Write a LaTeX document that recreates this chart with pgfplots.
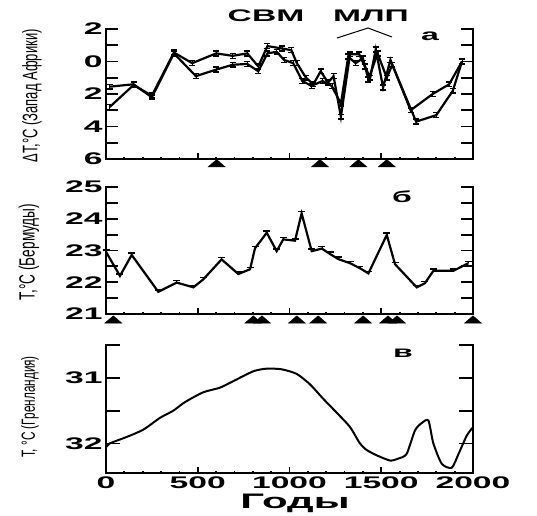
\documentclass[border=0pt]{standalone}
\usepackage{fontspec}
\setmainfont{Liberation Sans}
\newfontfamily\widefont[FakeStretch=2]{Liberation Sans}
\newfontfamily\ylfont[FakeStretch=0.62]{Liberation Sans}
\usepackage{pgfplots}
\pgfplotsset{compat=1.18}
\tikzset{tk/.style={black, line width=1.8pt}}
\pgfplotsset{
  panel/.style={
    scale only axis, width=367pt, xmin=0, xmax=2000,
    axis line style={draw=none},
    xtick={0,500,1000,1500,2000},
    xtick pos=bottom, ytick pos=both,
    tick align=inside,
    major tick length=0pt, minor tick length=0pt,
    tick label style={font=\widefont\bfseries\fontsize{16.8}{16.8}\selectfont},
    clip=false,
    before end axis/.code={\draw[line width=2.5pt, line cap=rect, line join=miter]
      (axis description cs:0,1) -- (axis description cs:0,0) -- (axis description cs:1,0) -- (axis description cs:1,1);},
  },
  tri/.style={only marks, mark=triangle*, mark size=9.8pt, mark options={yscale=0.5, fill=black, draw=black}},
}
\begin{document}
\begin{tikzpicture}
\path[use as bounding box] (0,0) rectangle (537pt,-515pt);
% ---------- panel a ----------
\begin{axis}[panel, at={(106pt,-159pt)}, anchor=south west, height=130pt,
  ymin=-6, ymax=2, ytick={-6,-5,...,2},
  yticklabels={6,,4,,2,,0,,2}, xticklabels={}]
\addplot[black, line width=2.2pt, error bars/.cd, y dir=both, y fixed=0.15,
  error mark options={rotate=90, mark size=3pt, line width=1.5pt, black}]
coordinates {(20,-2.8)(150,-1.45)(250,-2.1)(370,0.55)(470,-0.1)(600,0.5)(690,0.35)(770,0.5)(830,-0.3)(880,0.95)(960,0.8)(1010,0.7)(1040,-0.1)(1090,-1.0)(1130,-1.4)(1170,-0.6)(1210,-1.3)(1240,-0.9)(1280,-3.4)(1330,0.45)(1380,0.45)(1410,-0.3)(1440,-1.0)(1470,0.75)(1510,-1.6)(1550,0.1)(1660,-3.0)(1780,-2.0)(1870,-1.4)(1940,0.0)};
\addplot[black, line width=2.2pt, error bars/.cd, y dir=both, y fixed=0.15,
  error mark options={rotate=90, mark size=3pt, line width=1.5pt, black}]
coordinates {(20,-1.55)(150,-1.4)(250,-2.2)(370,0.5)(490,-0.9)(600,-0.5)(690,-0.2)(770,-0.15)(830,-0.6)(880,0.5)(930,0.6)(970,0.1)(1020,-0.1)(1070,-1.2)(1120,-1.5)(1180,-1.2)(1230,-1.5)(1280,-2.6)(1320,0.3)(1360,-0.1)(1400,0.2)(1430,-1.1)(1480,0.5)(1530,-1.0)(1560,-0.2)(1690,-3.7)(1800,-3.3)(1890,-1.8)(1940,0.0)};
\addplot[tri] coordinates {(603,-6.33)(1166,-6.33)(1375,-6.33)(1530,-6.33)};
\pgfplotsinvokeforeach{-5,-4,-3,-2,-1,0,1,2}{\draw[tk] (axis cs:0,#1) -- (axis cs:65,#1); \draw[tk] (axis cs:2000,#1) -- (axis cs:1935,#1);}
\pgfplotsinvokeforeach{100,200,300,400,600,700,800,900,1100,1200,1300,1400,1600,1700,1800,1900}{\draw[tk] (axis cs:#1,-6) -- (axis cs:#1,-5.846);}
\pgfplotsinvokeforeach{500,1000,1500}{\draw[tk] (axis cs:#1,-6) -- (axis cs:#1,-5.63);}
\end{axis}
% ---------- panel b ----------
\begin{axis}[panel, at={(106pt,-314pt)}, anchor=south west, height=127pt,
  ymin=21, ymax=25, ytick={21,21.5,...,25},
  yticklabels={21,,22,,23,,24,,25}, xticklabels={}]
\addplot[black, line width=2.2pt, error bars/.cd, y dir=plus, y fixed=0.06,
  error mark options={rotate=90, mark size=3.5pt, line width=1.5pt, black}]
coordinates {(0,22.96)(76,22.2)(140,22.86)(285,21.70)(385,21.99)(476,21.84)(530,22.09)(630,22.72)(721,22.26)(785,22.41)(812,23.07)(876,23.56)(930,22.98)(966,23.35)(1030,23.31)(1066,24.17)(1121,22.98)(1176,23.06)(1221,22.89)(1266,22.73)(1330,22.6)(1384,22.44)(1430,22.28)(1530,23.49)(1575,22.57)(1693,21.84)(1738,21.97)(1784,22.36)(1893,22.36)(1975,22.6)};
\addplot[tri] coordinates {(40,20.79)(803,20.79)(850,20.79)(1040,20.79)(1156,20.79)(1401,20.79)(1537,20.79)(1586,20.79)(2000,20.79)};
\pgfplotsinvokeforeach{21.5,22,22.5,23,23.5,24,24.5,25}{\draw[tk] (axis cs:0,#1) -- (axis cs:65,#1); \draw[tk] (axis cs:2000,#1) -- (axis cs:1935,#1);}
\pgfplotsinvokeforeach{100,200,300,400,600,700,800,900,1100,1200,1300,1400,1600,1700,1800,1900}{\draw[tk] (axis cs:#1,21) -- (axis cs:#1,21.079);}
\pgfplotsinvokeforeach{500,1000,1500}{\draw[tk] (axis cs:#1,21) -- (axis cs:#1,21.19);}
\end{axis}
% ---------- panel c ----------
\begin{axis}[panel, at={(106pt,-473pt)}, anchor=south west, height=128pt,
  ymin=-32.45, ymax=-30.5, ytick={-32,-31.5,-31,-30.5},
  yticklabels={32,,31,},
  xticklabels={0,500,1000,1500,2000}]
\addplot[black, line width=2pt, smooth, tension=0.4]
coordinates {(0,-32.06)(20,-32.0)(113,-31.90)(203,-31.79)(294,-31.61)(367,-31.5)(430,-31.37)(530,-31.22)(621,-31.15)(694,-31.05)(803,-30.90)(876,-30.86)(957,-30.87)(1039,-30.94)(1112,-31.10)(1184,-31.32)(1257,-31.53)(1330,-31.75)(1384,-32.0)(1421,-32.1)(1475,-32.18)(1548,-32.26)(1593,-32.23)(1638,-32.16)(1684,-31.8)(1720,-31.69)(1757,-31.65)(1784,-32.0)(1830,-32.31)(1884,-32.37)(1921,-32.16)(1966,-31.88)(1998,-31.76)};
\pgfplotsinvokeforeach{-32,-31.5,-31,-30.5}{\draw[tk] (axis cs:0,#1) -- (axis cs:76,#1); \draw[tk] (axis cs:2000,#1) -- (axis cs:1924,#1);}
\pgfplotsinvokeforeach{100,200,300,400,600,700,800,900,1100,1200,1300,1400,1600,1700,1800,1900}{\draw[tk] (axis cs:#1,-32.45) -- (axis cs:#1,-32.412);}
\pgfplotsinvokeforeach{500,1000,1500}{\draw[tk] (axis cs:#1,-32.45) -- (axis cs:#1,-32.359);}
\end{axis}
% ---------- texts ----------
\node[font=\widefont\bfseries\fontsize{16.8}{16.8}\selectfont] at (266pt,-16pt) {СВМ};
\node[font=\widefont\bfseries\fontsize{16.8}{16.8}\selectfont] at (371pt,-16pt) {МЛП};
\draw[line width=1pt] (337pt,-38pt) -- (368pt,-28pt) -- (392pt,-37pt);
\node[font=\widefont\bfseries\fontsize{16}{16}\selectfont] at (430pt,-36pt) {а};
\node[font=\widefont\bfseries\fontsize{16}{16}\selectfont] at (402pt,-197pt) {б};
\node[font=\widefont\bfseries\fontsize{16}{16}\selectfont] at (403pt,-353pt) {в};
\node[font=\widefont\bfseries\fontsize{21}{21}\selectfont] at (295pt,-503pt) {Годы};
\node[rotate=90, font=\ylfont\fontsize{21}{21}\selectfont] at (32pt,-96pt) {ΔT,°C (Запад Африки)};
\node[rotate=90, font=\ylfont\fontsize{22}{22}\selectfont] at (29pt,-252pt) {T,°C (Бермуды)};
\node[rotate=90, font=\ylfont\fontsize{19}{19}\selectfont] at (30pt,-407pt) {T, °C (Гренландия)};
\end{tikzpicture}
\end{document}
